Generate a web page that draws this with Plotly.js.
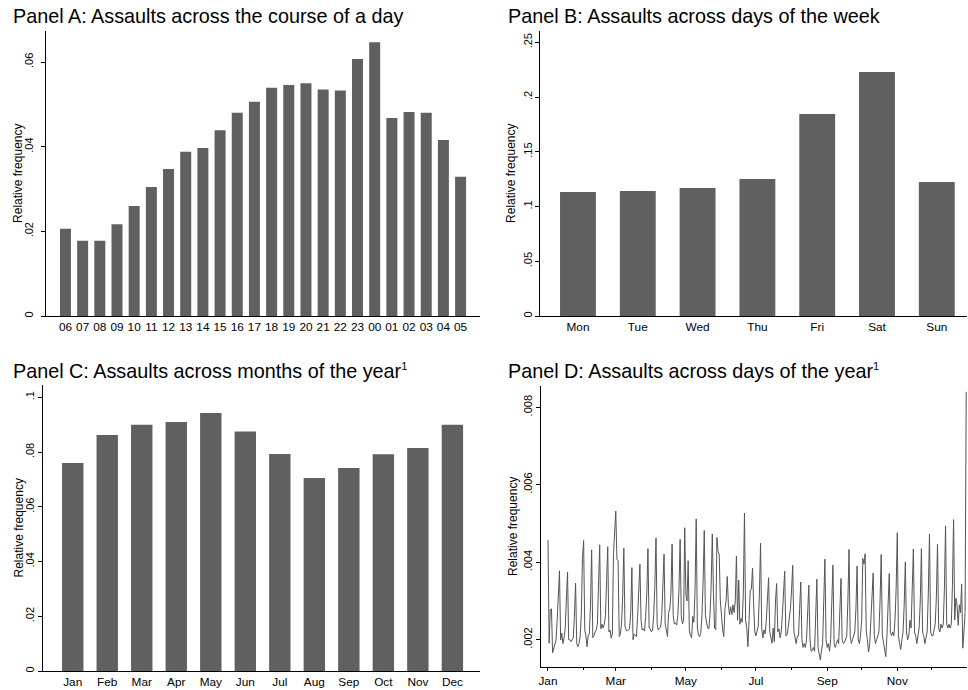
<!DOCTYPE html>
<html>
<head>
<meta charset="utf-8">
<script src="https://cdn.plot.ly/plotly-3.0.1.min.js"></script>
<style>html,body{margin:0;padding:0;background:#fff;}#chart{width:968px;height:690px;}</style>
</head>
<body>
<div id="chart"></div>
<script>
// ---------- data ----------
const hours = ['06','07','08','09','10','11','12','13','14','15','16','17','18','19','20','21','22','23','00','01','02','03','04','05'];
const hourShare = [0.0206,0.0178,0.0178,0.0217,0.0260,0.0305,0.0347,0.0388,0.0397,0.0439,0.0480,0.0506,0.0539,0.0546,0.0550,0.0535,0.0533,0.0607,0.0647,0.0468,0.0482,0.0480,0.0416,0.0329];

const weekdays = ['Mon','Tue','Wed','Thu','Fri','Sat','Sun'];
const weekdayShare = [0.1133,0.1142,0.1169,0.1251,0.1845,0.2229,0.1224];

const months = ['Jan','Feb','Mar','Apr','May','Jun','Jul','Aug','Sep','Oct','Nov','Dec'];
const monthShare = [0.0760,0.0862,0.0900,0.0910,0.0943,0.0875,0.0793,0.0705,0.0742,0.0792,0.0815,0.0900];

// one value per day of the year, Jan 1 .. Dec 31
const dailyShare = [
0.00457,0.00191,0.00277,0.00280,
0.00166,0.00180,0.00190,0.00199,0.00250,0.00311,0.00378,
0.00199,0.00217,0.00190,0.00205,0.00230,0.00300,0.00375,
0.00200,0.00200,0.00195,0.00200,0.00205,0.00260,0.00346,
0.00190,0.00182,0.00190,0.00210,0.00265,0.00410,0.00456,
0.00225,0.00210,0.00182,0.00212,0.00215,0.00290,0.00432,
0.00205,0.00210,0.00220,0.00225,0.00240,0.00350,0.00445,
0.00228,0.00240,0.00230,0.00240,0.00262,0.00340,0.00440,
0.00220,0.00225,0.00204,0.00215,0.00420,0.00470,0.00532,
0.00407,0.00405,0.00208,0.00215,0.00240,0.00310,0.00436,
0.00235,0.00225,0.00222,0.00225,0.00228,0.00270,0.00386,
0.00200,0.00215,0.00212,0.00208,0.00260,0.00330,0.00395,
0.00250,0.00225,0.00228,0.00222,0.00260,0.00320,0.00435,
0.00230,0.00228,0.00220,0.00225,0.00262,0.00340,0.00463,
0.00240,0.00225,0.00230,0.00232,0.00262,0.00340,0.00421,
0.00240,0.00220,0.00208,0.00270,0.00280,0.00320,0.00447,
0.00262,0.00241,0.00243,0.00238,0.00262,0.00330,0.00459,
0.00262,0.00241,0.00250,0.00489,0.00318,0.00300,0.00404,
0.00225,0.00210,0.00205,0.00260,0.00245,0.00330,0.00512,
0.00230,0.00212,0.00208,0.00218,0.00262,0.00350,0.00482,
0.00262,0.00245,0.00230,0.00228,0.00265,0.00340,0.00473,
0.00320,0.00230,0.00226,0.00464,0.00428,0.00421,0.00300,
0.00260,0.00225,0.00208,0.00280,0.00300,0.00363,0.00290,
0.00264,0.00285,0.00265,0.00290,0.00270,0.00300,0.00416,
0.00250,0.00354,0.00240,0.00255,0.00245,0.00320,0.00527,
0.00250,0.00230,0.00182,0.00250,0.00328,0.00330,0.00385,
0.00290,0.00220,0.00210,0.00225,0.00235,0.00320,0.00449,
0.00230,0.00204,0.00225,0.00215,0.00250,0.00300,0.00360,
0.00220,0.00205,0.00191,0.00230,0.00195,0.00300,0.00345,
0.00220,0.00228,0.00205,0.00220,0.00265,0.00320,0.00377,
0.00210,0.00212,0.00230,0.00250,0.00280,0.00330,0.00392,
0.00220,0.00200,0.00190,0.00210,0.00210,0.00280,0.00349,
0.00200,0.00180,0.00190,0.00180,0.00200,0.00270,0.00341,
0.00200,0.00170,0.00172,0.00180,0.00170,0.00260,0.00356,
0.00180,0.00160,0.00148,0.00170,0.00190,0.00300,0.00408,
0.00200,0.00180,0.00190,0.00170,0.00200,0.00300,0.00393,
0.00190,0.00180,0.00190,0.00200,0.00190,0.00260,0.00358,
0.00200,0.00190,0.00192,0.00200,0.00210,0.00300,0.00433,
0.00210,0.00190,0.00200,0.00210,0.00220,0.00280,0.00390,
0.00200,0.00190,0.00210,0.00250,0.00410,0.00395,0.00422,
0.00220,0.00200,0.00168,0.00190,0.00240,0.00300,0.00372,
0.00210,0.00190,0.00200,0.00210,0.00220,0.00300,0.00420,
0.00210,0.00190,0.00170,0.00156,0.00210,0.00290,0.00371,
0.00220,0.00210,0.00220,0.00210,0.00250,0.00330,0.00476,
0.00210,0.00190,0.00175,0.00200,0.00220,0.00290,0.00401,
0.00220,0.00200,0.00210,0.00250,0.00230,0.00310,0.00434,
0.00220,0.00210,0.00190,0.00210,0.00230,0.00300,0.00435,
0.00220,0.00210,0.00190,0.00210,0.00220,0.00320,0.00473,
0.00220,0.00210,0.00210,0.00230,0.00240,0.00310,0.00447,
0.00230,0.00220,0.00240,0.00230,0.00240,0.00330,0.00494,
0.00240,0.00230,0.00240,0.00230,0.00240,0.00340,0.00510,
0.00251,0.00307,0.00290,0.00237,0.00290,0.00270,0.00344,0.00178,0.00220,0.00270,0.00840
];

const yTicksA = [0, 0.02, 0.04, 0.06];
const yTickTextA = ['0', '.02', '.04', '.06'];
const yTicksB = [0, 0.05, 0.1, 0.15, 0.2, 0.25];
const yTickTextB = ['0', '.05', '.1', '.15', '.2', '.25'];
const yTicksC = [0, 0.02, 0.04, 0.06, 0.08, 0.1];
const yTickTextC = ['0', '.02', '.04', '.06', '.08', '.1'];
const yTicksD = [0.002, 0.004, 0.006, 0.008];
const yTickTextD = ['.002', '.004', '.006', '.008'];
const dMajorTicks = ['2014-01-01','2014-03-01','2014-05-01','2014-07-01','2014-09-01','2014-11-01'];
const dMajorText = ['Jan','Mar','May','Jul','Sep','Nov'];
const dMinorTicks = ['2014-02-01','2014-04-01','2014-06-01','2014-08-01','2014-10-01','2014-12-01'];

const SUP = '<sup><span style="font-size:11px">1</span></sup>';
const panelTitles = [
  'Panel A: Assaults across the course of a day',
  'Panel B: Assaults across days of the week',
  'Panel C: Assaults across months of the year' + SUP,
  'Panel D: Assaults across days of the year' + SUP
];
const yTitle = 'Relative frequency';

// ---------- build ----------
const dates = dailyShare.map((v, i) => {
  const d = new Date(Date.UTC(2014, 0, 1 + i));
  return d.toISOString().slice(0, 10);
});

const FONT = 'Liberation Sans, Arial, Helvetica, sans-serif';
const BAR = '#606060';
const W = 968, H = 690;
const fx = px => px / W;
const fy = py => 1 - py / H;

function yAxis(dom, range, vals, text, anchor, standoff) {
  return {
    domain: dom, range: range, anchor: anchor,
    showline: true, linecolor: '#000', linewidth: 1,
    ticks: 'outside', ticklen: 4, tickcolor: '#000', tickwidth: 1,
    showgrid: false, zeroline: false,
    tickmode: 'array', tickvals: vals, ticktext: text,
    tickangle: -90, ticklabelstandoff: standoff,
    tickfont: {family: FONT, size: 11, color: '#000'},
    fixedrange: true
  };
}
function xCatAxis(dom, range, anchor) {
  return {
    domain: dom, range: range, anchor: anchor, type: 'category',
    showline: true, linecolor: '#000', linewidth: 1,
    ticks: '', showgrid: false, zeroline: false,
    tickfont: {family: FONT, size: 11.8, color: '#000'},
    fixedrange: true
  };
}

const traces = [
  {type: 'bar', x: hours, y: hourShare, xaxis: 'x', yaxis: 'y', marker: {color: BAR, line: {width: 0}}, width: 0.64},
  {type: 'bar', x: weekdays, y: weekdayShare, xaxis: 'x2', yaxis: 'y2', marker: {color: BAR, line: {width: 0}}, width: 0.6},
  {type: 'bar', x: months, y: monthShare, xaxis: 'x3', yaxis: 'y3', marker: {color: BAR, line: {width: 0}}, width: 0.62},
  {type: 'scatter', mode: 'lines', x: dates, y: dailyShare, xaxis: 'x4', yaxis: 'y4', line: {color: '#555555', width: 1}}
];

const titleAnn = [
  {text: panelTitles[0], x: fx(11), y: fy(16), xanchor: 'left', yanchor: 'middle'},
  {text: panelTitles[1], x: fx(506), y: fy(16), xanchor: 'left', yanchor: 'middle'},
  {text: panelTitles[2], x: fx(11), y: fy(371), xanchor: 'left', yanchor: 'middle'},
  {text: panelTitles[3], x: fx(506), y: fy(371), xanchor: 'left', yanchor: 'middle'}
].map(a => Object.assign(a, {xref: 'paper', yref: 'paper', showarrow: false, font: {family: FONT, size: 19.8, color: '#000'}}));

const yTitleAnn = [
  {x: fx(18.5), y: fy(173.4)},
  {x: fx(511.5), y: fy(173.4)},
  {x: fx(18.5), y: fy(528)},
  {x: fx(512.5), y: fy(526.5)}
].map(a => Object.assign(a, {text: yTitle, textangle: -90, xref: 'paper', yref: 'paper', xanchor: 'center', yanchor: 'middle', showarrow: false, font: {family: FONT, size: 12, color: '#000'}}));

const layout = {
  width: W, height: H,
  margin: {l: 0, r: 0, t: 0, b: 0},
  paper_bgcolor: '#fff', plot_bgcolor: '#fff',
  showlegend: false, hovermode: false,
  font: {family: FONT, color: '#000'},
  xaxis: xCatAxis([fx(45.7), fx(480)], [-1.15, 24.13], 'y'),
  yaxis: yAxis([fy(316), fy(30.7)], [0, 0.0674], yTicksA, yTickTextA, 'x', 3),
  xaxis2: xCatAxis([fx(540), fx(967)], [-0.635, 6.505], 'y2'),
  yaxis2: yAxis([fy(316), fy(30.7)], [0, 0.2606], yTicksB, yTickTextB, 'x2', -1),
  xaxis3: xCatAxis([fx(42.7), fx(480)], [-0.87, 11.8], 'y3'),
  yaxis3: yAxis([fy(671), fy(385)], [0, 0.1045], yTicksC, yTickTextC, 'x3', -1),
  xaxis4: {
    domain: [fx(541), fx(967)], anchor: 'y4', type: 'date',
    range: ['2013-12-25 22:00', '2014-12-31 16:00'],
    showline: true, linecolor: '#000', linewidth: 1,
    ticks: 'outside', ticklen: 3, tickcolor: '#000',
    tickmode: 'array', tickvals: dMajorTicks, ticktext: dMajorText,
    minor: {tickmode: 'array', tickvals: dMinorTicks, ticks: 'outside', ticklen: 2, tickcolor: '#000', showgrid: false},
    showgrid: false, zeroline: false,
    tickfont: {family: FONT, size: 11.8, color: '#000'},
    fixedrange: true
  },
  yaxis4: yAxis([fy(667.3), fy(385.7)], [0.001287, 0.008558], yTicksD, yTickTextD, 'x4', 0),
  annotations: titleAnn.concat(yTitleAnn)
};

Plotly.newPlot('chart', traces, layout, {staticPlot: true, displayModeBar: false});
</script>
</body>
</html>
